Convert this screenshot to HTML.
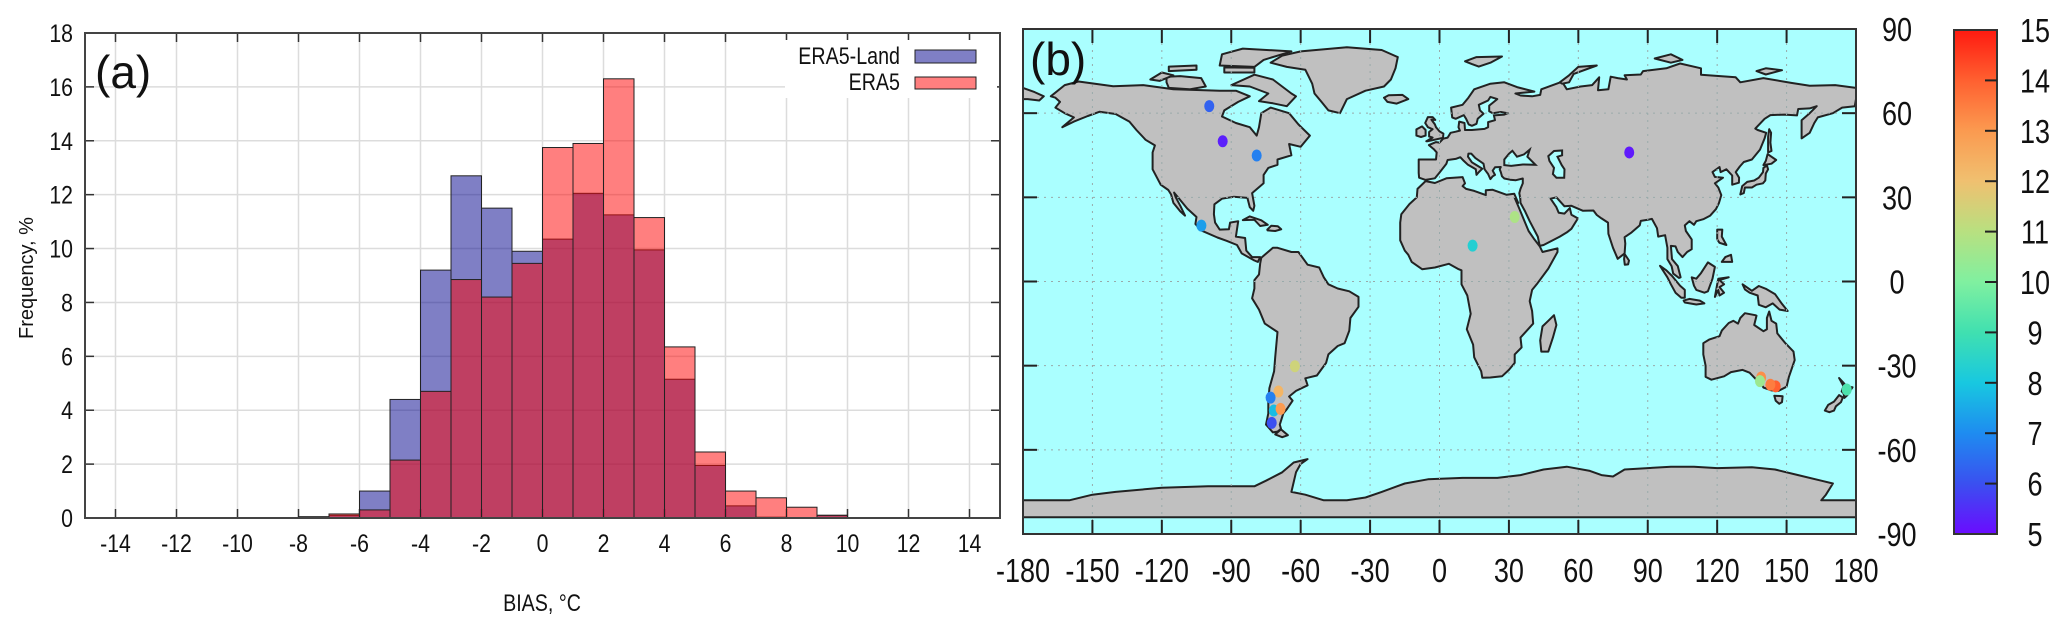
<!DOCTYPE html>
<html><head><meta charset="utf-8">
<style>
html,body{margin:0;padding:0;background:#fff;}
svg{display:block;}
text{font-family:"Liberation Sans",sans-serif;fill:#111;}
</style></head>
<body>
<svg id="fig" width="2067" height="630" viewBox="0 0 2067 630" xmlns="http://www.w3.org/2000/svg">
  <defs>
    <linearGradient id="cbgrad" x1="0" y1="1" x2="0" y2="0">
      <stop offset="0" stop-color="#6a0cff"/><stop offset="0.1" stop-color="#3a50f0"/>
      <stop offset="0.2" stop-color="#1e8cf0"/><stop offset="0.3" stop-color="#18c8e0"/>
      <stop offset="0.4" stop-color="#40e0b0"/><stop offset="0.5" stop-color="#80f0a0"/>
      <stop offset="0.6" stop-color="#b8e080"/><stop offset="0.7" stop-color="#f0c070"/>
      <stop offset="0.8" stop-color="#fb9a50"/><stop offset="0.9" stop-color="#ff6030"/>
      <stop offset="1" stop-color="#ff1a10"/>
    </linearGradient>
    <clipPath id="mapclip"><rect x="1023" y="29" width="833" height="505"/></clipPath>
  </defs>
  <g id="hist"></g>
  <g id="map"></g>
</svg>
<script>
// ---------- Histogram data ----------
const binStarts = [-8,-7,-6,-5,-4,-3,-2,-1,0,1,2,3,4,5,6,7,8,9];
const era5Land = [0.05,0.1,1.0,4.4,9.2,12.7,11.5,9.9,10.35,12.05,11.25,9.95,5.15,1.95,0.45,0.03,0,0.1];
const era5 = [0.03,0.15,0.3,2.15,4.7,8.85,8.2,9.45,13.75,13.9,16.3,11.15,6.35,2.45,1.0,0.75,0.4,0.1];
const xTicks = [-14,-12,-10,-8,-6,-4,-2,0,2,4,6,8,10,12,14];
const yTicks = [0,2,4,6,8,10,12,14,16,18];
// ---------- Map data ----------
const stLon = [-99.5,-93.7,-79,-102.9,32.5,14.3,82,-62.5,-69.6,-73,-71.6,-68.7,-72.5,139,145.3,143,176,138.5];
const stLat = [62.5,50,44.9,19.9,23,12.8,46,-30.2,-39.2,-41.4,-46,-45.4,-50.4,-34.2,-37.4,-36.8,-38.5,-35.5];
const stVal = [6.3,5.3,6.8,7.3,10.8,8.3,5.2,11.4,12.3,6.8,7.8,13,6,13.2,14,13.5,9.2,10.5];
const lonTicks = [-180,-150,-120,-90,-60,-30,0,30,60,90,120,150,180];
const latTicks = [90,60,30,0,-30,-60,-90];
const cbTicks = [5,6,7,8,9,10,11,12,13,14,15];

const NS="http://www.w3.org/2000/svg";
function mk(tag, attrs, parent){const e=document.createElementNS(NS,tag);for(const k in attrs)e.setAttribute(k,attrs[k]);parent.appendChild(e);return e;}
function ntext(parent,x,y,size,anchor,str,sx){
  const e=mk('text',{x:0,y:0,'font-size':size,'text-anchor':anchor,transform:'translate('+x+','+y+') scale('+sx+',1)'},parent);
  e.textContent=str;return e;}

// ---------- Histogram ----------
const H=document.getElementById('hist');
const hx0=85,hx1=1000,hy0=518,hy1=33;
const hx=v=>hx0+(v+15)/30*(hx1-hx0);
const hy=v=>hy0-v/18*(hy0-hy1);
xTicks.forEach(t=>{
  const l=mk('line',{x1:hx(t),x2:hx(t),y1:hy1,y2:hy0,stroke:'#dcdcdc','stroke-width':1.5},H);
  
  
  mk('line',{x1:hx(t),x2:hx(t),y1:hy0,y2:hy0-9,stroke:'#333','stroke-width':1.5},H);
  mk('line',{x1:hx(t),x2:hx(t),y1:hy1,y2:hy1+9,stroke:'#333','stroke-width':1.5},H);
  const tx=ntext(H,hx(t),552,25,'middle',t,0.85);
  
  
});
yTicks.forEach(t=>{
  if(t>0&&t<18){const l=mk('line',{x1:hx0,x2:hx1,y1:hy(t),y2:hy(t),stroke:'#dcdcdc','stroke-width':1.5},H);
  
  }
  mk('line',{x1:hx0,x2:hx0+9,y1:hy(t),y2:hy(t),stroke:'#333','stroke-width':1.5},H);
  mk('line',{x1:hx1,x2:hx1-9,y1:hy(t),y2:hy(t),stroke:'#333','stroke-width':1.5},H);
  const tx=ntext(H,73,hy(t)+9,25,'end',t,0.85);
  
  
});
const lb=mk('rect',{x:785,y:40,width:212,height:58,fill:'#fff'},H);


binStarts.forEach((b,i)=>{
  if(era5Land[i]>0){const r=mk('rect',{x:hx(b),y:hy(era5Land[i]),width:hx(b+1)-hx(b),height:hy0-hy(era5Land[i]),fill:'rgba(0,0,140,0.5)',stroke:'#222','stroke-width':1},H);
  
  }
});
binStarts.forEach((b,i)=>{
  if(era5[i]>0){const r=mk('rect',{x:hx(b),y:hy(era5[i]),width:hx(b+1)-hx(b),height:hy0-hy(era5[i]),fill:'rgba(255,0,0,0.5)',stroke:'#222','stroke-width':1},H);
  
  }
});
mk('rect',{x:hx0,y:hy1,width:hx1-hx0,height:hy0-hy1,fill:'none',stroke:'#444','stroke-width':2},H);
let t;
t=mk('text',{x:95,y:88,'font-size':46},H);t.textContent='(a)';


t=ntext(H,900,64,24,'end','ERA5-Land',0.82);


t=mk('rect',{x:915,y:50,width:61,height:13,fill:'rgba(0,0,140,0.5)',stroke:'#222','stroke-width':1},H);


t=ntext(H,900,90,24,'end','ERA5',0.82);


t=mk('rect',{x:915,y:77,width:61,height:12,fill:'rgba(255,0,0,0.5)',stroke:'#222','stroke-width':1},H);


t=ntext(H,542,611,24,'middle','BIAS, °C',0.82);


t=mk('text',{x:0,y:0,'font-size':20,'text-anchor':'middle',transform:'translate(33,278) rotate(-90)'},H);t.textContent='Frequency, %';



// ---------- Map ----------
const M=document.getElementById('map');
const mx0=1023,mx1=1856,my0=29,my1=534;
const mx=lon=>mx0+(lon+180)/360*(mx1-mx0);
const my=lat=>my0+(90-lat)/180*(my1-my0);
const ocean=mk('rect',{x:mx0,y:my0,width:mx1-mx0,height:my1-my0,fill:'#aaffff'},M);


const land={
 northAmerica:[[-168,66],[-162,70],[-156,71.3],[-141,69.6],[-128,70],[-115,68.5],[-95,68],[-88,68],[-82,66],[-87,64],[-93,61],[-94,58.8],[-88,56.5],[-82,55],[-79,52],[-78,55],[-77,60],[-73,62],[-65,60],[-61,56],[-56,52],[-60,48],[-65,49],[-64,45],[-70,43.5],[-70,41.6],[-74,40.5],[-76,38],[-76,35],[-81,31.5],[-80,27],[-80.5,25.2],[-82,26.5],[-83,29.8],[-89,30.2],[-94,29.5],[-97.3,27.5],[-97.5,24],[-97,21],[-95,18.5],[-91,18.6],[-90.5,21],[-87,21.5],[-88,16],[-84,15.5],[-83.5,11],[-81,8.7],[-77.5,8.7],[-78.5,7],[-80,7.5],[-85.5,10],[-87.5,13],[-92,14.5],[-96,15.7],[-103,18.2],[-105.5,20.5],[-105,23],[-109,26],[-112.5,29.5],[-114.7,31.7],[-114,30],[-112,27],[-110,23.5],[-112,25],[-115,28],[-116,31],[-117.2,32.6],[-120.5,34.5],[-124,40],[-124,46],[-123,48.5],[-127,50.5],[-131,54],[-134,57],[-140,59.7],[-147,60.5],[-152,59],[-158,57],[-163,55],[-158,58.5],[-162,60],[-166,62],[-164,64],[-166,65.5]],
 greenland:[[-73,78],[-68,80.5],[-60,82],[-40,83.5],[-25,82.5],[-18,80],[-19,76],[-21,72],[-24,69.5],[-32,68],[-40,65],[-43,60],[-48,61],[-51,64],[-54,67],[-55,70.5],[-58,75.5],[-66,76.5]],
 baffin:[[-90,70],[-80,73.7],[-72,72],[-64,67],[-62,66],[-66,62.5],[-72,63.5],[-78,64.3],[-74,67],[-82,69.5]],
 victoria:[[-118,73],[-112,73.2],[-103,72.5],[-101,69.5],[-108,68.5],[-117,69],[-118,71]],
 ellesmere:[[-95,77],[-80,76.5],[-76,79],[-64,82],[-85,83],[-94,81]],
 banks:[[-125,72],[-120,74.5],[-115,73.5],[-121,71.5]],
 devon:[[-93,74.5],[-80,74.5],[-80,76.2],[-93,76.3]],
 melville:[[-117,75],[-105,75.5],[-105,77],[-117,76.6]],
 southAmerica:[[-77,8.5],[-72,12],[-70,12],[-64,10.5],[-61,10.5],[-57,6],[-52,5],[-50,1.5],[-48,-1],[-44,-2.5],[-39,-3.5],[-35,-5.5],[-35,-9],[-38.5,-13],[-39,-17.5],[-41,-22],[-44,-23],[-48,-26],[-49,-29],[-53,-33.5],[-58,-34.5],[-57,-37],[-62,-39],[-65,-41],[-63.5,-42.5],[-66,-45.5],[-67.5,-47],[-69,-51],[-68.5,-52.5],[-70,-53.5],[-72,-53.8],[-75,-51],[-74,-47],[-74,-43],[-73.5,-38],[-71.5,-32],[-71,-27],[-70,-18],[-75.5,-15],[-78,-10],[-81,-6],[-80,-2.5],[-80,0.5],[-78,2.5],[-77.5,6.5]],
 tierraDelFuego:[[-68.5,-52.7],[-65.5,-54.8],[-68,-55.5],[-71,-54.5]],
 africa:[[-17,21],[-16.5,24],[-13,27.6],[-9.8,30],[-9.5,33],[-6,35.8],[-2,35.1],[3,36.8],[10,37.2],[11,35],[10,34],[11.5,33],[15,32.3],[20,30.8],[20,32.5],[23,32.7],[29,30.9],[32.3,31.3],[34,28],[32.5,29.8],[34.5,26],[37,21],[38.5,18],[41,15],[43.3,12.6],[44.5,10.5],[51,11.8],[51,10.5],[47,4.6],[42,-1],[40,-3],[39,-7],[40,-10.5],[40.5,-15],[35,-20],[35.5,-23.5],[32.5,-26],[32.5,-29],[30,-31.5],[27,-33.8],[22,-34.2],[18.5,-34.3],[18,-32],[15,-27],[14.5,-22.5],[11.8,-17],[13.5,-11.5],[12,-5],[9.5,-1],[9.5,4],[8,4.5],[4,6.3],[-2,5],[-7.5,4.4],[-12,7],[-13.5,9.5],[-15,11],[-17,14.7]],
 madagascar:[[49.5,-12],[50.5,-15.5],[49,-20],[47,-25],[44,-25],[43.5,-21],[44.5,-16],[47,-14]],
 eurasia:[[-9,43.5],[-9,38.7],[-8.8,37],[-6,36.2],[-2,36.8],[0,38.8],[3,42],[3.5,43.3],[7,43.7],[9,44.3],[10.5,43],[12.3,41.6],[15.7,40],[16,38],[17,39],[18.5,40.2],[16,41.5],[14,42.5],[12.3,44.5],[12.5,45.6],[13.7,45.6],[15.5,44],[19,42],[19.5,40],[21,38.3],[22,36.5],[23,37.5],[24,38],[23,39.5],[24,40.7],[26.5,40.8],[26,40],[26.5,39],[27,37.5],[28,36.7],[30.5,36.3],[33,36.1],[36,36.7],[36,35],[35,33],[34.5,31.5],[34.9,29.5],[35,28],[37,25],[39,21.5],[42.5,16],[43.3,12.7],[45,13],[52,16],[55,17.5],[57,18.8],[59.8,22.5],[57,23.8],[56.3,26.2],[54,24.2],[51.5,24.5],[50.5,26.5],[48,29.5],[50.5,30],[54,26.8],[57,27],[62,25.2],[66.5,25.3],[68,23.7],[70,22.5],[72.8,21],[73,17],[75,12],[77,8.1],[80,10],[80.3,13.5],[80,15.8],[83,17.5],[86.5,20],[87,21.6],[90,22],[91.8,22.3],[94,19],[94.5,16],[97.5,16.5],[98.5,12],[98.5,8],[100.3,5.5],[101,2.8],[103.5,1.3],[104.2,1.5],[103,5.5],[100.5,8],[100,12.7],[102,12.5],[103,10.5],[105,8.7],[107,10.5],[109,11.5],[109,15],[106.5,18],[106,20],[108,21.5],[110,20.2],[111,21.5],[114,22.2],[117,23.5],[119.5,25.8],[120.8,28],[121.8,30.8],[120.5,33.5],[119,35],[122.5,37],[119,37.3],[118,39],[121,40.8],[121.5,39],[124,40],[126.5,37.8],[126.5,34.5],[129.4,35.2],[129.5,37],[128,39],[129.8,41],[131.5,42.6],[135,43.5],[138.5,47],[140.5,51],[141.2,53],[137.5,54],[136.5,54.5],[140.5,58],[143,59.3],[149,59.5],[154.5,59.2],[155,61.5],[160,61.7],[163,62.5],[160,60],[156.5,57.5],[156.5,51],[160,53],[162,56.5],[163.5,58.5],[170,60],[174,62],[179.5,62.5],[180,65],[180,69],[171,70],[160,69.8],[152,70.8],[140,72.5],[130,71],[128,72.8],[113,73.7],[113,76],[104,77.7],[98,76],[88,75],[87,73.8],[80,73.5],[81,72],[77,72.5],[74,73],[73,68.5],[68.5,68.2],[69,72.8],[66,70],[61,69.5],[55,68.5],[53,71.2],[44,68.5],[43.5,66.5],[40,66],[35,66.3],[32.8,67],[41,67.7],[33.5,69.3],[28,71],[22,70.5],[15,68.5],[12.5,65.5],[10,63],[5,62],[5.5,58.5],[7,58],[10.5,59.3],[11.5,58],[12.6,56],[14,55.5],[16,56.2],[16.5,58],[19,59.8],[17.5,61],[17,63],[21,64.5],[22,65.8],[25,65],[21.5,62.7],[21.5,60.7],[23,60],[26.5,60.4],[29.5,60],[28,59.5],[23.5,59.2],[24,57.5],[21,56.8],[21,55],[19.5,54.4],[14,54],[11,54],[10.8,56.5],[8.5,57],[8.2,55],[8.8,53.8],[7,53.4],[4.8,53],[3.5,51.3],[1.6,50.9],[0,49.5],[-1.5,49.7],[-4.6,48.6],[-2.5,47.2],[-1.2,46],[-1.5,43.5]],
 chukotkaEast:[[-180,65],[-180,69],[-175,67.5],[-171,66],[-173,64.5],[-178,65]],
 britain:[[-5,50],[1.5,51.2],[1.7,52.7],[0,53.5],[-1.5,55],[-2,56],[-3.5,57.7],[-1.8,57.6],[-3,58.6],[-5,58.6],[-6.2,56.5],[-5,55],[-3,54.3],[-4.5,53.3],[-4.5,51.7],[-3,51.3],[-5.7,50]],
 ireland:[[-6,52],[-6,54],[-7.5,55.3],[-10,54.2],[-10,52],[-8,51.5]],
 iceland:[[-22.5,64],[-24,65.5],[-22,66.4],[-16,66.5],[-13.5,65],[-18.5,63.4]],
 honshu:[[130,31],[131.5,31.5],[132,33.5],[135,33.5],[137,34.5],[139.8,35],[140.8,36],[141,38.5],[142,40],[141.5,41.4],[140,40.5],[139.8,39],[138,37],[136,36],[133,35.5],[130.8,34]],
 hokkaido:[[140,41.5],[141,43],[141.8,45.4],[145.5,43.3],[143.5,42]],
 sakhalin:[[142,46],[143.5,46.5],[143,49.5],[143.3,53],[142.5,54.3],[142,51.5]],
 luzon:[[120,18.5],[122.2,18.5],[122,16],[124,13],[121,13.8],[120,15]],
 mindanao:[[122,7],[126.5,7],[126,9.5],[123.5,8.7]],
 borneo:[[109,1.5],[111,1],[113,3],[116,6.8],[119,5.2],[118,1],[116,-3.5],[114.5,-4],[111,-3],[110,-1.5]],
 sumatra:[[95.3,5.6],[98,4],[100.5,2],[104,-1.5],[106,-3],[106,-5.8],[104.5,-5.8],[102,-4],[100,-1],[98.5,1.5]],
 java:[[105.5,-6.8],[108,-6.2],[112.5,-6.8],[114.5,-7.8],[111,-8.2],[106,-7.5]],
 sulawesi:[[119,-5.5],[120,-1],[120.5,1],[125,1.5],[121,0.5],[123,-1],[121,-2],[123,-4],[121,-5],[120.5,-3]],
 newGuinea:[[131,-1],[135,-3.3],[138,-1.6],[141,-2.6],[145,-4.5],[148,-8],[150.5,-10.5],[147,-10],[144,-7.8],[141,-9.2],[138,-8.3],[137.5,-5],[134,-4],[132,-2.8]],
 australia:[[114,-22],[114,-26],[115,-30],[115,-34],[117.5,-35],[123,-33.8],[126,-32.3],[131,-31.5],[134,-32.5],[137.5,-35.5],[138,-34],[138.5,-35.6],[140,-37.8],[143.5,-38.8],[146.5,-39],[150,-37.5],[151,-34],[153.5,-28],[153,-25],[149.5,-22],[146,-18.5],[145.5,-15],[143.5,-14],[142.5,-10.7],[141.5,-13],[141.5,-17],[140,-17.7],[136,-15.5],[137,-12.2],[136.5,-12],[132,-11.3],[130,-13],[129,-15],[127,-14],[125,-14.8],[122,-17.5],[121,-19.5],[116.5,-20.7]],
 tasmania:[[144.7,-40.7],[148.3,-40.9],[148,-43],[146.8,-43.6],[145.3,-42.5]],
 nzNorth:[[172.7,-34.4],[174.5,-36],[176,-37.5],[178.5,-37.7],[177,-39.5],[176.3,-40.5],[175,-41.5],[174.6,-39.8],[173.8,-39.2],[174.6,-37.3]],
 nzSouth:[[172.7,-40.5],[174.3,-41.3],[173.5,-43],[171.3,-44.5],[170.5,-46],[168.5,-46.6],[166.5,-46],[168,-44],[170.5,-42.8]],
 sriLanka:[[79.8,8],[80,9.8],[81.9,7.5],[81.5,6.1],[80.1,6]],
 cuba:[[-85,21.9],[-82,23.2],[-77,21.8],[-74.2,20.2],[-77.5,19.8],[-80,22]],
 hispaniola:[[-74.4,18.5],[-72.7,19.9],[-69.9,19.7],[-68.4,18.6],[-71,18],[-74.3,18.2]],
 svalbard:[[11,78.5],[16,80],[27,80.2],[22,78],[17,76.6],[14,77.5]],
 novayaZemlya:[[52,71],[56,73.5],[60,76.5],[68,77],[58,74],[56,71],[53,70.5]],
 severnaya:[[93,79.5],[100,81],[105,79],[100,78]],
 newSiberian:[[137,75],[141,76],[148,75.3],[141,73.8]],
 antarctica:[[-180,-84],[-180,-78],[-160,-78],[-150,-76],[-140,-75],[-120,-73.5],[-100,-73],[-80,-73],[-75,-71],[-68,-68],[-63,-64.5],[-57,-63.3],[-60,-65],[-62,-68],[-64,-75],[-58,-76],[-50,-78],[-40,-78],[-32,-77],[-25,-75],[-15,-72],[-5,-70.5],[10,-70],[25,-70],[35,-69],[45,-67],[55,-66],[65,-67.5],[70,-69],[75,-69.5],[80,-67],[90,-66.5],[100,-66],[110,-66],[120,-66.5],[135,-66.2],[145,-67],[155,-69],[165,-71],[170,-72],[167,-76],[165,-78],[180,-78],[180,-84]]
};
const seas={blackSea:[[28,41.5],[28,43.5],[30,45.5],[31.5,46.6],[33.5,44.5],[36.5,45.3],[39,47],[38,44.5],[41.5,41.6],[36,41.7],[31,41.2]],
 caspian:[[47,44.7],[49.5,46.5],[53,46.7],[53,45],[51,44.5],[52.8,41.5],[54,40],[53.9,37],[50.5,37],[49,38.3],[49.5,40.5],[47.5,43]]};
const LG=mk('g',{'clip-path':'url(#mapclip)'},M);
const pts=a=>a.map(p=>mx(p[0]).toFixed(1)+','+my(p[1]).toFixed(1)).join(' ');
for(const k in land){
  const p=mk('polygon',{points:pts(land[k]),fill:'#c0c0c0',stroke:'#222','stroke-width':2,'stroke-linejoin':'round'},LG);
  
  
}
for(const k in seas){
  const p=mk('polygon',{points:pts(seas[k]),fill:'#aaffff',stroke:'#222','stroke-width':2},LG);
  
  
}
lonTicks.forEach(l=>{
  if(l>-180&&l<180){const g=mk('line',{x1:mx(l),x2:mx(l),y1:my0,y2:my1,stroke:'#99aaaa','stroke-width':1,'stroke-dasharray':'2,5'},M);
  
  }
  mk('line',{x1:mx(l),x2:mx(l),y1:my1,y2:my1-14,stroke:'#222','stroke-width':2},M);
  mk('line',{x1:mx(l),x2:mx(l),y1:my0,y2:my0+14,stroke:'#222','stroke-width':2},M);
  const tx=ntext(M,mx(l),582,33,'middle',l,0.82);
  
  
});
latTicks.forEach(l=>{
  if(l>-90&&l<90){const g=mk('line',{x1:mx0,x2:mx1,y1:my(l),y2:my(l),stroke:'#99aaaa','stroke-width':1,'stroke-dasharray':'2,5'},M);
  
  }
  mk('line',{x1:mx0,x2:mx0+14,y1:my(l),y2:my(l),stroke:'#222','stroke-width':2},M);
  mk('line',{x1:mx1,x2:mx1-14,y1:my(l),y2:my(l),stroke:'#222','stroke-width':2},M);
  const tx=ntext(M,1897,my(l)+12,33,'middle',l,0.82);
  
  
});
const cStops=[[5,[106,12,255]],[6,[58,80,240]],[7,[30,140,240]],[8,[24,200,224]],[9,[64,224,176]],[10,[128,240,160]],[11,[184,224,128]],[12,[240,192,112]],[13,[251,154,80]],[14,[255,96,48]],[15,[255,26,16]]];
function cmap(v){v=Math.max(5,Math.min(15,v));const i=Math.min(9,Math.floor(v-5));const f=v-5-i;const a=cStops[i][1],b=cStops[i+1][1];
  return 'rgb('+a.map((c,j)=>Math.round(c+(b[j]-c)*f)).join(',')+')';}
stLon.forEach((lo,i)=>{
  const d=mk('ellipse',{cx:mx(lo),cy:my(stLat[i]),rx:5,ry:6,fill:cmap(stVal[i])},M);
  
  
});
mk('rect',{x:mx0,y:my0,width:mx1-mx0,height:my1-my0,fill:'none',stroke:'#333','stroke-width':2},M);
t=mk('text',{x:1030,y:75,'font-size':46},M);t.textContent='(b)';


const cbx=1954,cbw=43,cby0=534,cby1=30;
const cby=v=>cby0-(v-5)/10*(cby0-cby1);
t=mk('rect',{x:cbx,y:cby1,width:cbw,height:cby0-cby1,fill:'url(#cbgrad)',stroke:'#333','stroke-width':2},M);


cbTicks.forEach(v=>{
  if(v>5&&v<15)mk('line',{x1:cbx+cbw,x2:cbx+cbw-12,y1:cby(v),y2:cby(v),stroke:'#222','stroke-width':2},M);
  const tx=ntext(M,2035,cby(v)+12,33,'middle',v,0.82);
  
  
});
</script>
</body></html>
